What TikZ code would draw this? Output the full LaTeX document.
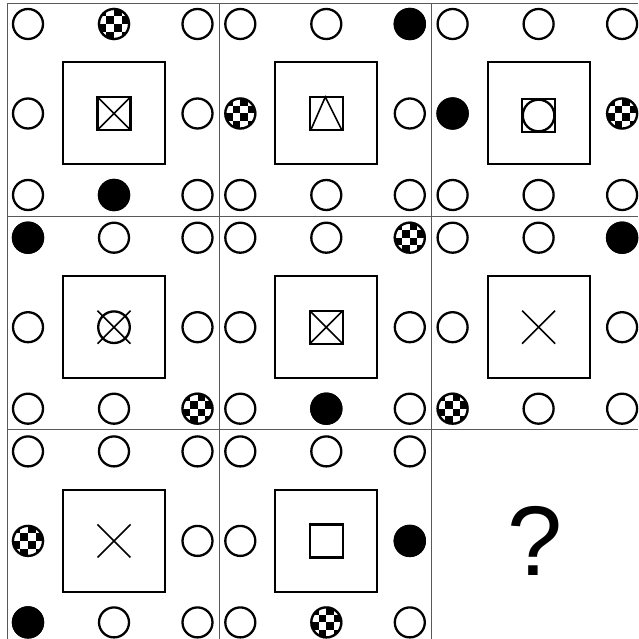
\documentclass[tikz,border=0pt]{standalone}
\usepackage{fontspec}
\setmainfont{Liberation Sans}
\begin{document}
\begin{tikzpicture}[x=1pt,y=-1pt,
  gridline/.style={draw=black!65,line width=1pt},
  bigsq/.style={draw=black,line width=2pt},
  thick2/.style={draw=black,line width=2.3pt},
  xline/.style={draw=black,line width=1.6pt},
  ringpic/.pic={\draw[thick2,fill=white] (0,0) circle (15);},
  dotpic/.pic={\fill[black] (0,0) circle (16.2);},
  checkpic/.pic={
    \fill[white] (0,0) circle (16.2);
    \begin{scope}
      \clip (0,0) circle (15.5);
      \foreach \i in {-3,...,2}{
        \foreach \j in {-3,...,2}{
          \pgfmathtruncatemacro\chk{mod(\i+\j+6,2)}
          \ifnum\chk=0 \fill[black] (\i*7.6,\j*7.6) rectangle ++(7.6,7.6);\fi
        }
      }
    \end{scope}
    \draw[thick2] (0,0) circle (15);},
  bigbox/.pic={\draw[bigsq] (-51,-51) rectangle (51,51);},
  smallsq/.pic={\draw[thick2] (-16.5,-16.5) rectangle (16.5,16.5);},
  xmark/.pic={\draw[xline] (-16.5,-16.5) -- (16.5,16.5) (-16.5,16.5) -- (16.5,-16.5);},
  trimark/.pic={\draw[xline] (-15.5,16.5) -- (-1,-16.5) -- (15.5,16.5);},
  circmark/.pic={\draw[thick2] (0,0) circle (15.8);}
]
\useasboundingbox (0,0) rectangle (638,639);
\fill[white] (0,0) rectangle (638,639);

% grid
\draw[gridline] (7,4) -- (7,639);
\draw[gridline] (219,4) -- (219,639);
\draw[gridline] (431,4) -- (431,639);
\draw[gridline] (7,4) -- (638,4);
\draw[gridline] (7,216.5) -- (638,216.5);
\draw[gridline] (7,429) -- (638,429);

% cell centres
\coordinate (c11) at (114,113.5);
\coordinate (c12) at (326.3,113.5);
\coordinate (c13) at (538.6,113.5);
\coordinate (c21) at (114,327.2);
\coordinate (c22) at (326.3,327.2);
\coordinate (c23) at (538.6,327.2);
\coordinate (c31) at (114,540.9);
\coordinate (c32) at (326.3,540.9);
\coordinate (c33) at (535,541);

% rings and big boxes in eight cells
\foreach \c in {c11,c12,c13,c21,c22,c23,c31,c32}{
  \pic at (\c) {bigbox};
  \foreach \dx/\dy in {-86/-89.5,0/-89.5,83.5/-89.5,-86/0,83.5/0,-86/81.5,0/81.5,83.5/81.5}{
    \pic at ([shift={(\dx,\dy)}]\c) {ringpic};
  }
}

% special circles
% row 1
\pic at ([shift={(0,-89.5)}]c11) {checkpic};
\pic at ([shift={(0,81.5)}]c11) {dotpic};
\pic at ([shift={(83.5,-89.5)}]c12) {dotpic};
\pic at ([shift={(-86,0)}]c12) {checkpic};
\pic at ([shift={(-86,0)}]c13) {dotpic};
\pic at ([shift={(83.5,0)}]c13) {checkpic};
% row 2
\pic at ([shift={(-86,-89.5)}]c21) {dotpic};
\pic at ([shift={(83.5,81.5)}]c21) {checkpic};
\pic at ([shift={(83.5,-89.5)}]c22) {checkpic};
\pic at ([shift={(0,81.5)}]c22) {dotpic};
\pic at ([shift={(83.5,-89.5)}]c23) {dotpic};
\pic at ([shift={(-86,81.5)}]c23) {checkpic};
% row 3
\pic at ([shift={(-86,0)}]c31) {checkpic};
\pic at ([shift={(-86,81.5)}]c31) {dotpic};
\pic at ([shift={(83.5,0)}]c32) {dotpic};
\pic at ([shift={(0,81.5)}]c32) {checkpic};

% inner figures
\pic at (c11) {smallsq}; \pic at (c11) {xmark};
\pic at (c12) {smallsq}; \pic at (c12) {trimark};
\pic at ([shift={(0,2)}]c13) {smallsq}; \pic at ([shift={(0,2)}]c13) {circmark};
\pic at (c21) {circmark}; \pic at (c21) {xmark};
\pic at (c22) {smallsq}; \pic at (c22) {xmark};
\pic at (c23) {xmark};
\pic at (c31) {xmark};
\pic at (c32) {smallsq};

% question mark
\node[inner sep=0pt,font=\fontsize{99}{100}\selectfont] (q) at (c33) {?};
\end{tikzpicture}
\end{document}
